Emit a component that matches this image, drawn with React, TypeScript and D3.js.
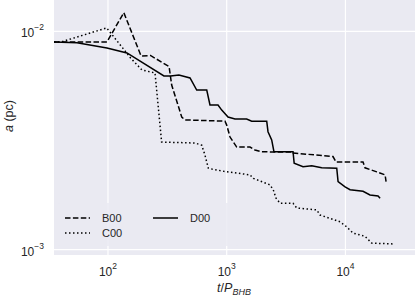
import React from 'react';
import * as d3 from 'd3';

// t/P_BHB and a (pc)
const b00T = [35.1, 98, 136, 190, 228, 291, 327, 344, 418, 446, 968, 1000, 1067, 1214, 1571, 1730, 1972, 2553, 3620, 3640, 7860, 8340, 14070, 14620, 18360, 21580, 21990];
const b00A = [0.00895, 0.00895, 0.01219, 0.00772, 0.00776, 0.00717, 0.00691, 0.00568, 0.00405, 0.00393, 0.00388, 0.00372, 0.00328, 0.00295, 0.00295, 0.00286, 0.00281, 0.0028, 0.0028, 0.00277, 0.00267, 0.00252, 0.00252, 0.00237, 0.00227, 0.0022, 0.00205];

const c00T = [35.1, 40.2, 97.5, 155, 193, 249, 283, 541, 616, 656, 700, 750, 968, 1571, 1675, 2312, 2466, 2603, 2813, 3300, 3620, 3890, 5730, 6110, 7410, 9020, 10260, 11590, 14620, 16660, 26180];
const c00A = [0.00895, 0.00895, 0.01038, 0.00756, 0.00666, 0.00645, 0.00311, 0.00308, 0.00301, 0.00271, 0.00236, 0.00234, 0.00228, 0.0022, 0.00212, 0.00198, 0.00188, 0.00172, 0.00163, 0.00163, 0.00163, 0.00155, 0.00152, 0.00144, 0.00139, 0.00134, 0.00127, 0.00119, 0.00115, 0.00107, 0.00106];

const d00T = [35.1, 54.8, 98, 144.5, 296, 337, 396, 491, 559, 679, 723, 845, 908, 1026, 1175, 1473, 1624, 2173, 2228, 2393, 2500, 3620, 3700, 4395, 5200, 6310, 8450, 8670, 9930, 10940, 14070, 16110, 18830, 19590];
const d00A = [0.00895, 0.00888, 0.0084, 0.00797, 0.00625, 0.00625, 0.00632, 0.00612, 0.00539, 0.00539, 0.0046, 0.0046, 0.00436, 0.00405, 0.00397, 0.00397, 0.00388, 0.00388, 0.00347, 0.00318, 0.00281, 0.00281, 0.00249, 0.0024, 0.00242, 0.00237, 0.00236, 0.00205, 0.00194, 0.00188, 0.00185, 0.00178, 0.00176, 0.00172];

const xTicks = [100, 1000, 10000];
const yTicks = [0.001, 0.01];

const series = [
  { name: 'B00', t: b00T, a: b00A, dash: '5.5,2.4' },
  { name: 'C00', t: c00T, a: c00A, dash: '1.5,2.5' },
  { name: 'D00', t: d00T, a: d00A, dash: '' },
];

const W = 415;
const H = 299;
const left = 54, right = 415, top = 0, bottom = 255;
const font = '"Liberation Sans", Arial, sans-serif';

export default function App() {
  const x = d3.scaleLog().domain([35.1, 38550]).range([left, right]);
  const y = d3.scaleLog().domain([0.000944, 0.01394]).range([bottom, top]);

  const line = d3.line<[number, number]>()
    .x(d => x(d[0]))
    .y(d => y(d[1]));

  return (
    <svg width={W} height={H} style={{ position: 'absolute', left: 0, top: 0 }} fontFamily={font}>
      <defs>
        <clipPath id="plot">
          <rect x={left} y={top} width={right - left} height={bottom - top} />
        </clipPath>
      </defs>
      <rect x={left} y={top} width={right - left} height={bottom - top} fill="#EAEAF2" />
      {xTicks.map(t => (
        <line key={'gx' + t} x1={x(t)} x2={x(t)} y1={top} y2={bottom} stroke="#fff" strokeWidth={1.2} />
      ))}
      {yTicks.map(t => (
        <line key={'gy' + t} x1={left} x2={right} y1={y(t)} y2={y(t)} stroke="#fff" strokeWidth={1.2} />
      ))}

      <g clipPath="url(#plot)">
        {series.map(s => (
          <path key={s.name}
            d={line(s.t.map((t, i) => [t, s.a[i]] as [number, number])) || ''}
            fill="none" stroke="#000" strokeWidth={1.5}
            strokeDasharray={s.dash || undefined} />
        ))}
      </g>

      {/* tick labels */}
      {xTicks.map(t => (
        <text key={'tx' + t} x={x(t)} y={276} fontSize={12} fill="#262626" textAnchor="middle">
          10<tspan dy={-7} fontSize={8.5}>{Math.round(Math.log10(t))}</tspan>
        </text>
      ))}
      {yTicks.map(t => (
        <text key={'ty' + t} x={44} y={y(t) + 6} fontSize={12} fill="#262626" textAnchor="end">
          10<tspan dy={-7} fontSize={8.5}>{'\u2212' + Math.abs(Math.round(Math.log10(t)))}</tspan>
        </text>
      ))}

      <text x={234} y={292} fontSize={12.5} fill="#262626" textAnchor="middle">
        <tspan fontStyle="italic">t</tspan>/<tspan fontStyle="italic">P</tspan>
        <tspan dy={3} fontSize={9} fontStyle="italic">BHB</tspan>
      </text>
      <text transform="translate(13,116) rotate(-90)" fontSize={12.5} fill="#262626" textAnchor="middle">
        <tspan fontStyle="italic">a</tspan> (pc)
      </text>

      {/* legend */}
      <rect x={58} y={203} width={180} height={43} rx={3} fill="#EAEAF2" fillOpacity={0.85} />
      {series.map((s, i) => {
        const col = i < 2 ? 0 : 1;
        const row = i < 2 ? i : 0;
        const lx = 65 + col * 88;
        const ly = 218 + row * 15;
        return (
          <g key={'lg' + s.name}>
            <line x1={lx} x2={lx + 25} y1={ly} y2={ly} stroke="#000" strokeWidth={1.5}
              strokeDasharray={s.dash || undefined} />
            <text x={lx + 37} y={ly + 4} fontSize={11} fill="#262626">{s.name}</text>
          </g>
        );
      })}
    </svg>
  );
}
